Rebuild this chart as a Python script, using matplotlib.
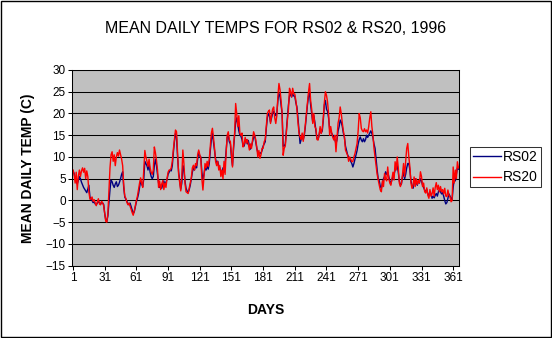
import numpy as np
import matplotlib
matplotlib.use("Agg")
import matplotlib.pyplot as plt
from matplotlib.patches import Rectangle

plt.rcParams['font.family'] = ['Liberation Sans', 'DejaVu Sans']

# Mean daily temperature (C) for each day of 1996
rs02 = [
    6.8, 6.2, 5.0, 4.4, 3.8, 4.6, 5.5, 5.0, 4.2, 3.6,
    3.0, 2.6, 2.2, 1.8, 2.6, 3.5, 0.8, 0.2, 0.0, -0.5,
    -0.3, -0.8, -1.0, -0.6, -0.2, -0.5, -0.9, -0.4, -0.6, -0.9,
    -3.0, -4.5, -4.8, -3.5, -0.5, 2.5, 4.7, 4.3, 3.5, 3.0,
    3.8, 4.3, 3.2, 3.5, 4.2, 5.0, 6.0, 6.6, 3.0, 0.8,
    0.3, -0.2, -0.8, -1.0, -0.6, -1.4, -2.2, -3.0, -2.6, -1.5,
    -0.3, 0.5, 1.5, 3.0, 4.5, 3.8, 3.2, 5.0, 9.0, 8.5,
    8.0, 7.0, 8.5, 6.5, 5.5, 5.0, 5.5, 8.0, 9.5, 8.0,
    6.0, 4.0, 3.0, 3.5, 2.8, 3.8, 4.5, 3.5, 4.2, 4.8,
    6.0, 6.5, 7.0, 6.8, 8.0, 11.0, 13.5, 15.4, 14.5, 10.0,
    6.5, 4.5, 2.6, 4.0, 8.0, 7.0, 4.5, 2.8, 2.2, 1.8,
    2.5, 3.5, 5.0, 6.5, 7.5, 7.0, 8.0, 7.5, 9.5, 11.2,
    10.2, 10.0, 6.5, 4.8, 6.0, 7.5, 7.0, 8.0, 7.2, 8.5,
    11.5, 14.0, 15.4, 13.5, 11.5, 9.5, 8.5, 9.0, 8.0, 7.5,
    6.8, 6.0, 7.5, 6.5, 8.5, 11.5, 14.5, 15.0, 13.5, 13.0,
    10.0, 8.0, 12.0, 15.0, 18.0, 19.0, 17.5, 16.0, 15.0, 14.8,
    14.0, 12.5, 12.5, 13.5, 14.0, 13.0, 13.8, 12.5, 11.8, 12.5,
    13.5, 14.5, 15.0, 13.5, 12.0, 11.0, 10.5, 11.0, 10.8, 11.5,
    12.5, 13.0, 13.5, 16.5, 19.0, 20.0, 19.5, 18.0, 19.0, 20.0,
    20.5, 20.0, 19.5, 20.0, 23.0, 24.6, 24.0, 22.0, 20.0, 12.5,
    12.5, 13.0, 16.0, 19.0, 22.0, 24.0, 24.5, 23.8, 24.5, 24.0,
    24.0, 22.5, 21.5, 19.0, 16.0, 13.1, 14.0, 15.0, 14.0, 15.0,
    17.0, 19.5, 22.0, 24.0, 24.6, 22.0, 20.0, 18.0, 19.5, 18.0,
    16.0, 14.3, 14.0, 15.0, 16.5, 15.5, 16.0, 18.5, 22.0, 23.0,
    21.0, 20.5, 19.0, 16.5, 16.0, 15.4, 15.0, 14.5, 14.0, 13.0,
    14.0, 16.0, 17.0, 18.5, 18.0, 17.0, 15.5, 14.5, 12.5, 11.5,
    10.5, 10.0, 9.5, 9.0, 8.5, 7.7, 8.5, 9.5, 10.5, 11.5,
    13.0, 14.0, 14.6, 13.9, 13.5, 14.2, 13.5, 14.0, 15.0, 14.5,
    15.0, 15.5, 16.0, 15.4, 14.5, 13.0, 12.0, 9.5, 7.0, 5.0,
    4.5, 3.2, 2.8, 4.0, 5.0, 5.5, 6.6, 6.0, 6.5, 5.5,
    4.5, 3.8, 4.8, 5.5, 6.0, 7.0, 7.5, 8.0, 6.5, 4.5,
    3.5, 3.8, 5.5, 6.5, 5.0, 6.0, 7.5, 8.5, 8.5, 7.0,
    4.5, 3.5, 2.8, 4.0, 5.0, 4.2, 3.5, 4.5, 4.0, 5.0,
    4.5, 3.5, 3.0, 2.4, 2.0, 2.5, 1.5, 1.0, 2.0, 1.5,
    0.5, 1.0, 0.6, 1.2, 1.6, 1.0, 2.0, 2.5, 2.0, 1.5,
    1.8, 1.0, 0.0, -0.8, -0.5, 0.5, 1.5, 1.0, 0.5, 0.2,
    3.0, 5.0, 4.5, 6.0, 7.5, 7.2,
]

rs20 = [
    7.0, 6.0, 4.0, 6.5, 2.5, 5.5, 7.0, 5.5, 6.8, 7.5,
    6.5, 7.4, 5.0, 6.8, 5.5, 2.0, 0.3, 0.3, 0.8, -0.2,
    0.2, -0.6, -1.2, -0.3, 0.4, -0.8, -1.0, -0.2, -0.5, -1.2,
    -3.0, -4.8, -5.0, -3.0, 2.0, 7.5, 10.5, 11.2, 9.0, 10.5,
    8.0, 10.0, 11.0, 10.2, 11.6, 10.5, 9.5, 8.0, 3.5, 1.0,
    0.5, -0.4, -1.0, -0.6, -1.3, -2.0, -2.8, -3.4, -2.4, -1.2,
    0.0, 1.0, 2.5, 4.0, 5.2, 4.0, 3.0, 7.0, 11.5, 10.0,
    9.0, 7.8, 9.5, 7.5, 6.5, 6.0, 7.0, 12.3, 11.0, 9.3,
    7.0, 3.0, 4.5, 2.5, 3.8, 4.6, 2.5, 4.0, 3.0, 5.0,
    6.5, 7.0, 7.0, 7.5, 9.0, 11.7, 14.0, 16.2, 15.8, 11.0,
    6.0, 4.0, 2.2, 5.5, 11.6, 8.5, 4.0, 2.0, 1.8, 1.6,
    2.8, 4.0, 5.2, 7.5, 8.1, 7.0, 8.5, 8.0, 10.5, 11.6,
    10.5, 9.8, 5.0, 2.4, 5.5, 8.5, 7.5, 9.0, 7.8, 9.5,
    12.5, 15.5, 16.6, 14.5, 12.0, 9.0, 8.0, 9.0, 7.0, 8.0,
    5.5, 7.0, 5.0, 9.0, 6.0, 11.0, 15.0, 15.8, 14.0, 13.5,
    10.5, 7.7, 12.5, 15.4, 22.3, 20.0, 17.0, 19.5, 15.4, 15.0,
    15.5, 12.3, 13.0, 14.5, 13.2, 14.0, 13.0, 11.6, 13.0, 12.0,
    14.0, 15.8, 15.0, 14.0, 12.3, 10.0, 11.5, 9.7, 10.5, 12.0,
    12.0, 13.5, 14.0, 17.0, 20.0, 20.5, 20.8, 17.7, 19.5, 21.0,
    21.5, 19.0, 17.7, 19.5, 24.0, 26.9, 25.5, 23.0, 20.0, 10.4,
    12.0, 12.5, 15.5, 18.5, 21.0, 25.8, 25.0, 23.8, 25.8, 24.5,
    24.5, 23.0, 21.0, 18.0, 15.5, 14.6, 14.0, 15.5, 13.6, 15.3,
    17.5, 20.0, 22.3, 25.0, 26.9, 23.0, 21.0, 17.7, 20.0, 17.0,
    16.5, 14.0, 13.9, 15.0, 17.0, 15.4, 16.5, 19.0, 22.5, 25.0,
    24.2, 22.7, 20.0, 15.0, 17.0, 15.5, 14.5, 13.9, 15.0, 11.2,
    14.5, 17.8, 19.0, 21.5, 20.0, 17.8, 16.0, 14.6, 11.6, 11.0,
    10.4, 9.0, 10.0, 9.5, 8.9, 9.0, 10.0, 10.8, 12.0, 13.1,
    16.0, 20.0, 19.0, 16.6, 16.0, 15.8, 16.5, 15.8, 16.2, 15.5,
    17.0, 19.0, 20.4, 17.0, 15.0, 12.0, 10.0, 8.0, 6.0, 4.7,
    3.5, 2.4, 2.0, 4.5, 3.2, 6.2, 5.0, 4.5, 7.7, 5.0,
    4.0, 3.5, 5.0, 6.5, 4.7, 8.9, 7.0, 10.0, 7.5, 4.0,
    3.2, 4.0, 6.0, 8.5, 5.5, 9.0, 12.0, 13.1, 10.0, 7.7,
    4.0, 2.8, 3.5, 5.4, 3.2, 5.0, 3.7, 4.6, 4.0, 6.6,
    5.5, 3.2, 4.0, 2.0, 1.7, 2.9, 1.2, 0.5, 2.5, 1.0,
    1.5, 2.9, 1.0, 3.0, 4.1, 2.5, 3.5, 2.0, 3.2, 2.0,
    2.5, 1.5, 2.8, 1.0, 0.9, 2.4, 1.2, 0.8, -0.3, 0.0,
    7.7, 4.0, 7.0, 5.0, 8.9, 7.5,
]

days = np.arange(1, len(rs02) + 1)
day_ticks = [1, 31, 61, 91, 121, 151, 181, 211, 241, 271, 301, 331, 361]
temp_ticks = [-15, -10, -5, 0, 5, 10, 15, 20, 25, 30]

fig = plt.figure(figsize=(5.52, 3.38), dpi=100)
ax = fig.add_axes([0.1304, 0.2139, 0.7011, 0.579])
ax.set_facecolor('#c0c0c0')

ax.plot(days, rs02, color='#000080', lw=1.0, label='RS02')
ax.plot(days, rs20, color='#ff0000', lw=1.0, label='RS20')

ax.set_xlim(0, 366.5)
ax.set_ylim(-15, 30)
ax.set_xticks(day_ticks)
ax.set_yticks(temp_ticks)
ax.grid(axis='y', color='black', lw=0.75)
ax.set_axisbelow(True)
for s in ax.spines.values():
    s.set_linewidth(0.75)
ax.tick_params(axis='both', direction='out', length=3, width=0.75,
               labelsize=8.5, pad=1.5)

ax.set_xlabel('DAYS', fontsize=10, fontweight='bold', labelpad=13.5)
ax.set_ylabel('MEAN DAILY TEMP (C)', fontsize=10, fontweight='bold', labelpad=7.5)
fig.text(0.5, 0.917, 'MEAN DAILY TEMPS FOR RS02 & RS20, 1996',
         ha='center', va='center', fontsize=11.5)

leg = ax.legend(loc='center left', bbox_to_anchor=(470 / 552, 1 - 167 / 338),
                bbox_transform=fig.transFigure, fontsize=10, frameon=True,
                fancybox=False, handlelength=2.0, handletextpad=0.2,
                labelspacing=0.5, borderpad=0.2, borderaxespad=0)
leg.get_frame().set_edgecolor('black')
leg.get_frame().set_linewidth(0.75)

# outer border round the whole chart
fig.patches.append(Rectangle((0.001, 0.002), 0.997, 0.995, transform=fig.transFigure,
                             fill=False, edgecolor='black', lw=1.0))

fig.savefig('out.png', dpi=100)
